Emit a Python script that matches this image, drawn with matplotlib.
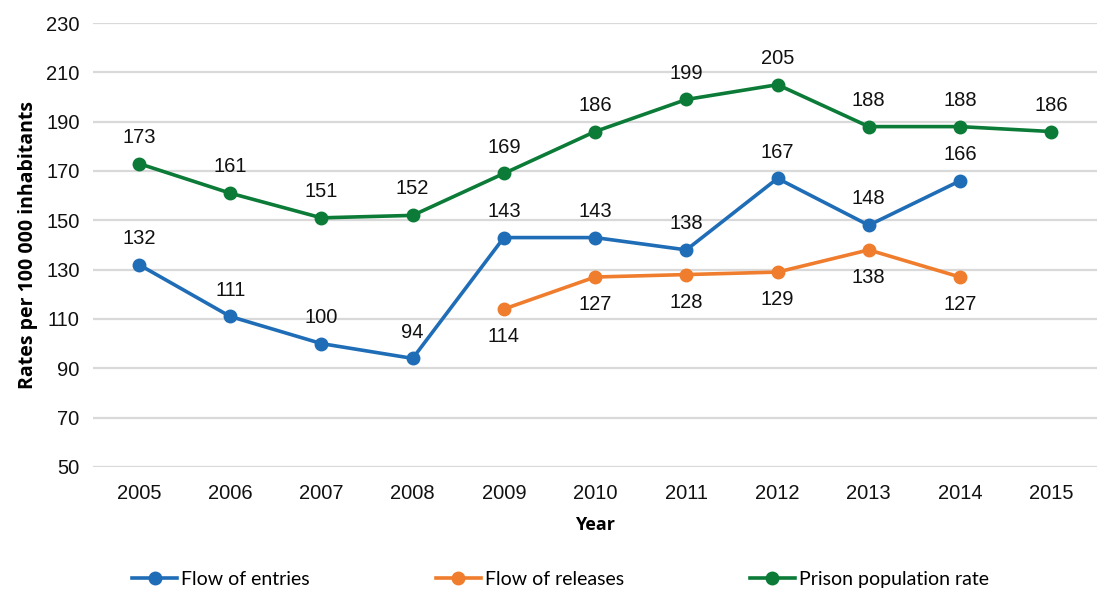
import matplotlib.pyplot as plt
import numpy as np

years = ['2005', '2006', '2007', '2008', '2009', '2010', '2011', '2012', '2013', '2014', '2015']
entries = [132, 111, 100, 94, 143, 143, 138, 167, 148, 166, None]
releases = [None, None, None, None, 114, 127, 128, 129, 138, 127, None]
prison = [173, 161, 151, 152, 169, 186, 199, 205, 188, 188, 186]

c_blue = '#1f6db6'
c_orange = '#ef7d2d'
c_green = '#0b7b37'

plt.rcParams['font.family'] = ['Liberation Sans', 'DejaVu Sans']

fig = plt.figure(figsize=(10.99, 5.91), dpi=100)
ax = fig.add_axes([0.085, 0.210, 0.913, 0.751])

x = np.arange(len(years))


def series(vals):
    idx = [i for i, v in enumerate(vals) if v is not None]
    return np.array(idx), np.array([vals[i] for i in idx])


lines = []
for vals, col, name, above in [(entries, c_blue, 'Flow of entries', True),
                               (releases, c_orange, 'Flow of releases', False),
                               (prison, c_green, 'Prison population rate', True)]:
    xi, yi = series(vals)
    l, = ax.plot(xi, yi, color=col, linewidth=2.6, marker='o', markersize=9,
                 label=name, zorder=3)
    lines.append(l)
    for a, b in zip(xi, yi):
        ax.annotate(str(b), (a, b), xytext=(0, 19 if above else -20),
                    textcoords='offset points', ha='center', va='center',
                    fontsize=14.5, color='#111111')

ax.set_xlim(-0.5, len(years) - 0.5)
ax.set_ylim(50, 230)
ax.set_yticks(np.arange(50, 231, 20))
ax.set_xticks(x)
ax.set_xticklabels(years)
ax.tick_params(axis='both', length=0, labelsize=14.5, colors='#111111')
ax.tick_params(axis='x', pad=12)
ax.tick_params(axis='y', pad=10)
ax.grid(axis='y', color='#d9d9d9', linewidth=1.6)
ax.set_axisbelow(True)
for s in ax.spines.values():
    s.set_visible(False)

ax.set_xlabel('Year', fontsize=13, fontweight='bold', family='Open Sans', labelpad=10)
ax.set_ylabel('Rates per 100 000 inhabitants', fontsize=14, fontweight='bold',
              family='Open Sans', labelpad=6)

fig.legend(handles=lines, loc='center', bbox_to_anchor=(0.51, 0.02), ncol=3,
           frameon=False, prop={'family': 'Lato', 'size': 14},
           handlelength=2.3, handletextpad=0.2, columnspacing=6.5)

fig.savefig('out.png', dpi=100)
